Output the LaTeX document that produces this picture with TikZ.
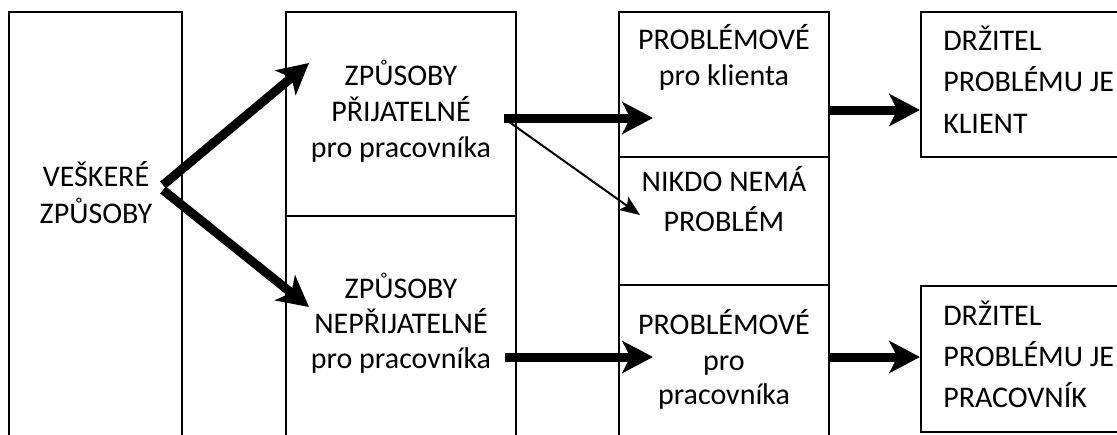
\documentclass[tikz,border=0pt]{standalone}
\usepackage{fontspec}
\setmainfont{Carlito}
\usetikzlibrary{arrows.meta,fit}
\begin{document}
\begin{tikzpicture}[x=0.75pt,y=-0.75pt,
  box/.style={draw, line width=1.5pt, inner sep=0pt},
  txt/.style={inner sep=0pt, anchor=base, font=\fontsize{22.5}{27}\selectfont},
  ltxt/.style={txt, anchor=base west},
  thick arrow/.style={line width=6.75pt, -{Stealth[length=23pt,width=24pt,inset=6pt]}},
  thin arrow/.style={line width=1.5pt, -{Stealth[length=15pt,width=12pt,inset=3pt]}}]
\useasboundingbox (0,0) rectangle (1117,435);
\fill[white] (0,0) rectangle (1117,435);
\clip (0,0) rectangle (1117,435);
% boxes
\node[box, fit={(9,12)(182,445)}] (all) {};
\node[box, fit={(286,12)(516,216)}] (acc) {};
\node[box, fit={(286,216)(516,445)}] (unacc) {};
\node[box, fit={(619,12)(829,157)}] (pcl) {};
\node[box, fit={(619,157)(829,285)}] (none) {};
\node[box, fit={(619,285)(829,445)}] (ppr) {};
\node[box, fit={(921,12)(1125,157)}] (hcl) {};
\node[box, fit={(921,286)(1125,432)}] (hpr) {};
% texts
\node[txt] (all1) at (96,186) {VEŠKERÉ};
\node[txt] (all2) at (96,223) {ZPŮSOBY};
\node[txt] (acc1) at (401,86) {ZPŮSOBY};
\node[txt] (acc2) at (401,122) {PŘIJATELNÉ};
\node[txt] (acc3) at (401,157) {pro pracovníka};
\node[txt] (un1) at (401,298) {ZPŮSOBY};
\node[txt] (un2) at (401,333) {NEPŘIJATELNÉ};
\node[txt] (un3) at (401,368) {pro pracovníka};
\node[txt] (pcl1) at (724,50) {PROBLÉMOVÉ};
\node[txt] (pcl2) at (724,86) {pro klienta};
\node[txt] (no1) at (724,191) {NIKDO NEMÁ};
\node[txt] (no2) at (724,231) {PROBLÉM};
\node[txt] (ppr1) at (724,334) {PROBLÉMOVÉ};
\node[txt] (ppr2) at (724,370) {pro};
\node[txt] (ppr3) at (724,404) {pracovníka};
\node[ltxt] (hcl1) at (943,51) {DRŽITEL};
\node[ltxt] (hcl2) at (943,92) {PROBLÉMU JE};
\node[ltxt] (hcl3) at (943,133) {KLIENT};
\node[ltxt] (hpr1) at (943,325) {DRŽITEL};
\node[ltxt] (hpr2) at (943,366) {PROBLÉMU JE};
\node[ltxt] (hpr3) at (943,407) {PRACOVNÍK};
% arrow ends
\coordinate (s1) at (163,185);
\coordinate (t1) at (309,63);
\coordinate (s2) at (163,190);
\coordinate (t2) at (309,307);
\coordinate (s3) at (504,118);
\coordinate (t3) at (653,118);
\coordinate (s4) at (505,119);
\coordinate (t4) at (640,215);
\coordinate (s5) at (505,357);
\coordinate (t5) at (653,357);
\coordinate (s6) at (829,110);
\coordinate (t6) at (920,110);
\coordinate (s7) at (829,357);
\coordinate (t7) at (920,357);
\draw[thick arrow] (s1) -- (t1);
\draw[thick arrow] (s2) -- (t2);
\draw[thick arrow] (s3) -- (t3);
\draw[thin arrow] (s4) -- (t4);
\draw[thick arrow] (s5) -- (t5);
\draw[thick arrow] (s6) -- (t6);
\draw[thick arrow] (s7) -- (t7);
\end{tikzpicture}
\end{document}
